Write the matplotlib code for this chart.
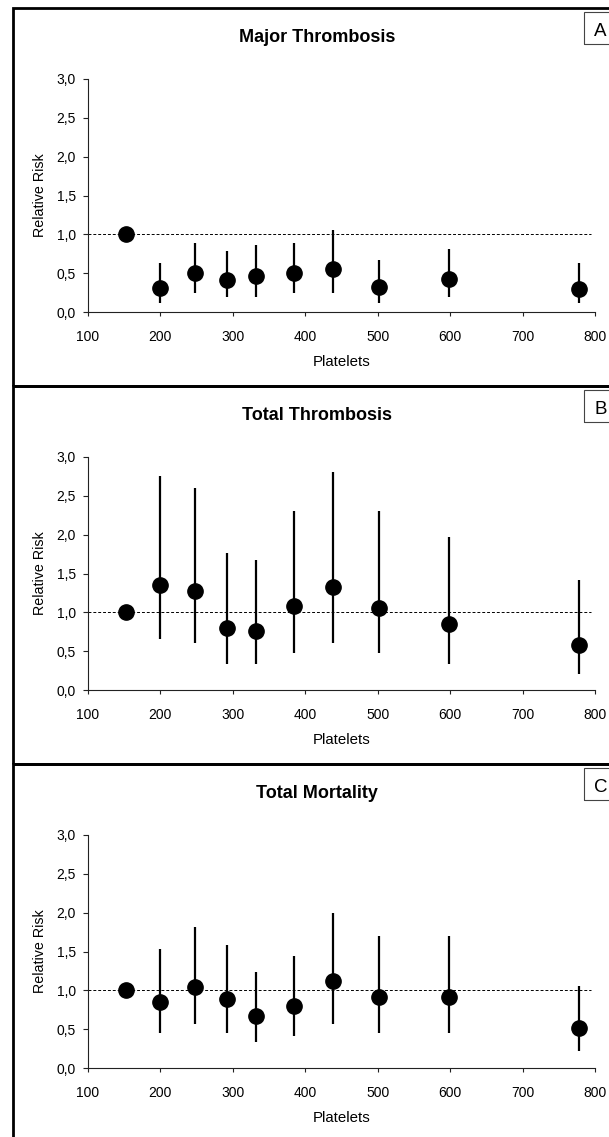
import matplotlib
matplotlib.use("Agg")
import matplotlib.pyplot as plt
from matplotlib.patches import Rectangle

plt.rcParams['font.family'] = ['Liberation Sans', 'DejaVu Sans']

# platelet count groups (x) and relative risk with 95% CI for each outcome
platelets = [153, 200, 248, 292, 332, 384, 438, 502, 598, 778]

titles = ["Major Thrombosis", "Total Thrombosis", "Total Mortality"]
letters = ["A", "B", "C"]

major_rr = [1.0, 0.31, 0.50, 0.41, 0.46, 0.50, 0.56, 0.32, 0.42, 0.29]
major_lo = [1.0, 0.12, 0.25, 0.19, 0.19, 0.25, 0.25, 0.12, 0.19, 0.12]
major_hi = [1.0, 0.63, 0.89, 0.78, 0.86, 0.89, 1.05, 0.67, 0.81, 0.63]

total_rr = [1.0, 1.35, 1.27, 0.80, 0.76, 1.08, 1.33, 1.06, 0.85, 0.58]
total_lo = [1.0, 0.66, 0.60, 0.33, 0.33, 0.48, 0.60, 0.48, 0.33, 0.21]
total_hi = [1.0, 2.75, 2.60, 1.76, 1.68, 2.30, 2.81, 2.30, 1.97, 1.41]

mort_rr = [1.0, 0.85, 1.04, 0.89, 0.67, 0.80, 1.12, 0.92, 0.91, 0.51]
mort_lo = [1.0, 0.45, 0.57, 0.45, 0.34, 0.41, 0.57, 0.45, 0.45, 0.22]
mort_hi = [1.0, 1.53, 1.81, 1.58, 1.24, 1.44, 2.00, 1.70, 1.70, 1.05]

xticks = [100, 200, 300, 400, 500, 600, 700, 800]
yticks = [0.0, 0.5, 1.0, 1.5, 2.0, 2.5, 3.0]
ytick_labels = ["0,0", "0,5", "1,0", "1,5", "2,0", "2,5", "3,0"]

series = [(major_rr, major_lo, major_hi),
          (total_rr, total_lo, total_hi),
          (mort_rr, mort_lo, mort_hi)]

W, H = 609, 1137
fig = plt.figure(figsize=(W / 100, H / 100), dpi=100)

for i in range(3):
    top = 8 + 378 * i
    rr, lo, hi = series[i]

    # panel frame (runs off the right/bottom of the image like the original)
    fig.add_artist(Rectangle((13 / W, 1 - (top + 378) / H), 2.0, 378 / H,
                             transform=fig.transFigure, fill=False,
                             lw=2.0, ec='black'))
    # letter box
    fig.add_artist(Rectangle((584 / W, 1 - (top + 36) / H), 0.2, 32 / H,
                             transform=fig.transFigure, fill=False,
                             lw=0.8, ec='#444444'))
    fig.text(600.5 / W, 1 - (top + 28) / H, letters[i], ha='center',
             va='baseline', fontsize=13.5)
    fig.text(317 / W, 1 - (top + 33.7) / H, titles[i], ha='center',
             va='baseline', fontsize=13, fontweight='bold')

    ax = fig.add_axes([87.7 / W, 1 - (top + 304) / H, (595 - 87.7) / W, 233 / H])
    ax.set_xlim(100, 800)
    ax.set_ylim(0, 3)
    ax.patch.set_visible(False)
    for s in ['top', 'right']:
        ax.spines[s].set_visible(False)
    for s in ['left', 'bottom']:
        ax.spines[s].set_linewidth(0.8)
        ax.spines[s].set_color('#222222')

    ax.hlines(1.0, 100, 795, colors='black', linestyles=(0, (3, 2)), lw=0.7,
              zorder=1)
    ax.vlines(platelets, lo, hi, colors='black', lw=1.6, zorder=2)
    ax.plot(platelets, rr, 'o', color='black', ms=11, zorder=3, clip_on=False)

    ax.set_xticks(xticks)
    ax.set_yticks(yticks)
    ax.set_yticklabels(ytick_labels)
    ax.tick_params(axis='x', direction='out', length=3, width=0.8,
                   color='#222222', labelsize=10, pad=10)
    ax.tick_params(axis='y', direction='out', length=3.5, width=0.8,
                   color='#222222', labelsize=10, pad=5)

    ax.set_xlabel("Platelets", fontsize=10.8)
    ax.xaxis.set_label_coords(0.5, -0.232)
    ax.xaxis.label.set_va('baseline')
    ax.set_ylabel("Relative Risk", fontsize=10.3)
    ax.yaxis.set_label_coords(-0.094, 0.5)
    ax.yaxis.label.set_va('center')

fig.savefig("out.png", dpi=100)
